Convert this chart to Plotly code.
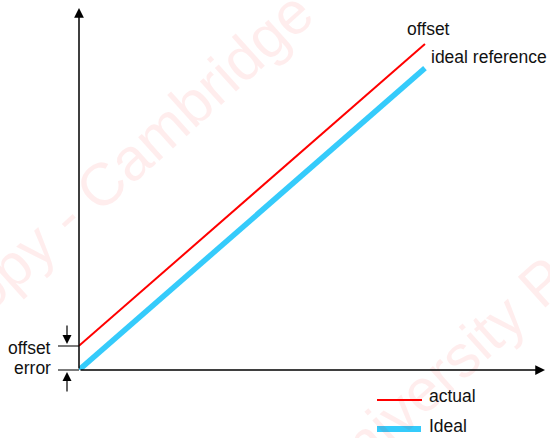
import plotly.graph_objects as go

# ---- data ----
x_vals = [0, 10]
ideal_vals = [0, 10]
offset_error = 0.8
actual_vals = [v + offset_error for v in ideal_vals]
series_names = ["actual", "Ideal"]
end_labels = ["offset", "ideal reference"]
left_labels = ["offset", "error"]
watermark = ["Copy - Cambridge", "University Press"]

# ---- layout constants ----
W, H = 550, 438
ML, MR, MT, MB = 79, 5, 8, 68
XMAX = 13.47
YMAX = 11.99
plot_w = W - ML - MR
plot_h = H - MT - MB

def px(p):  # pixel x -> paper x
    return (p - ML) / plot_w

def py(p):  # pixel y -> paper y
    return (H - MB - p) / plot_h

FONT = "Liberation Sans, Arial, Helvetica, sans-serif"
RED = "#ff0000"
BLUE = "#35cbfb"

fig = go.Figure()
fig.add_trace(go.Scatter(x=x_vals, y=ideal_vals, mode="lines",
                         line=dict(color=BLUE, width=5.5), name=series_names[1],
                         hoverinfo="skip"))
fig.add_trace(go.Scatter(x=x_vals, y=actual_vals, mode="lines",
                         line=dict(color=RED, width=2), name=series_names[0],
                         hoverinfo="skip"))

ann = []
# watermark
for txt, (xp, yp) in zip(watermark, [(122, 166), (480, 338)]):
    ann.append(dict(x=px(xp), y=py(yp), xref="paper", yref="paper", text=txt,
                    showarrow=False, textangle=-42, xanchor="center", yanchor="middle",
                    font=dict(family=FONT, size=60, color="rgba(255,0,0,0.07)")))
# axes arrows
ann.append(dict(x=1, y=0, ax=-plot_w, ay=0, xref="paper", yref="paper",
                showarrow=True, arrowhead=2, arrowsize=1.3, arrowwidth=1.5,
                arrowcolor="black", text=""))
ann.append(dict(x=0, y=1, ax=0, ay=plot_h, xref="paper", yref="paper",
                showarrow=True, arrowhead=2, arrowsize=1.3, arrowwidth=1.5,
                arrowcolor="black", text=""))
# offset error arrows
ann.append(dict(x=px(67), y=py(344), ax=0, ay=-20, xref="paper", yref="paper",
                showarrow=True, arrowhead=2, arrowsize=1.5,
                arrowwidth=1.2, arrowcolor="black", text=""))
ann.append(dict(x=px(67), y=py(372), ax=0, ay=21, xref="paper", yref="paper",
                showarrow=True, arrowhead=2, arrowsize=1.5,
                arrowwidth=1.2, arrowcolor="black", text=""))

def label(text, xp, yp, anchor="left"):
    ann.append(dict(x=px(xp), y=py(yp), xref="paper", yref="paper", text=text,
                    showarrow=False, xanchor=anchor, yanchor="middle",
                    font=dict(family=FONT, size=17.5, color="#111")))

label(left_labels[0], 53, 348, "right")
label(left_labels[1], 53, 368, "right")
label(end_labels[0], 405, 29)
label(end_labels[1], 429, 57)
label(series_names[0], 427, 396)
label(series_names[1], 427, 426)

shapes = []
# offset tick marks
for yp in (346, 370):
    shapes.append(dict(type="line", xref="paper", yref="paper", x0=px(58), x1=0,
                       y0=py(yp), y1=py(yp), line=dict(color="#333", width=1.3)))
# legend samples
shapes.append(dict(type="line", xref="paper", yref="paper", x0=px(377), x1=px(422),
                   y0=py(400), y1=py(400), line=dict(color=RED, width=2)))
shapes.append(dict(type="line", xref="paper", yref="paper", x0=px(377), x1=px(421),
                   y0=py(429), y1=py(429), line=dict(color=BLUE, width=6)))

fig.update_layout(
    width=W, height=H,
    margin=dict(l=ML, r=MR, t=MT, b=MB, pad=0),
    paper_bgcolor="white", plot_bgcolor="white",
    showlegend=False,
    xaxis=dict(range=[0, XMAX], showgrid=False, zeroline=False, showticklabels=False,
               ticks="", showline=False, fixedrange=True),
    yaxis=dict(range=[0, YMAX], showgrid=False, zeroline=False, showticklabels=False,
               ticks="", showline=False, fixedrange=True),
    annotations=ann,
    shapes=shapes,
)

fig.write_html("out.html", config={"displayModeBar": False},
               post_script="document.body.style.margin='0';document.body.style.padding='0';")
